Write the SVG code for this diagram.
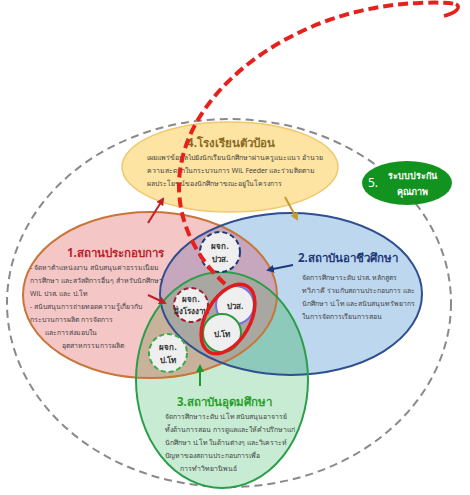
<svg xmlns="http://www.w3.org/2000/svg" width="470" height="495" viewBox="0 0 470 495">
<style>
text{font-family:"Noto Sans","DejaVu Sans",sans-serif}
.title{font-size:11.5px;font-weight:bold}
.body{font-size:6.9px;fill:#444}
.ct{font-size:8px;font-weight:bold;fill:#333;text-anchor:middle}
.arr{stroke-width:2;fill:none}
</style>
<defs>
<ellipse id="eR" cx="150" cy="295" rx="127" ry="83"/>
<ellipse id="eB" cx="291" cy="294" rx="131" ry="81"/>
<ellipse id="eG" cx="222" cy="380" rx="86" ry="108"/>
<clipPath id="cR"><use href="#eR"/></clipPath>
<clipPath id="cB"><use href="#eB"/></clipPath>
<marker id="mRed" markerWidth="8" markerHeight="8" refX="6" refY="4" orient="auto" markerUnits="userSpaceOnUse"><path d="M0,0 L8,4 L0,8 Z" fill="#c0202a"/></marker>
<marker id="mGold" markerWidth="8" markerHeight="8" refX="6" refY="4" orient="auto" markerUnits="userSpaceOnUse"><path d="M0,0 L8,4 L0,8 Z" fill="#c49a2c"/></marker>
<marker id="mNavy" markerWidth="8" markerHeight="8" refX="6" refY="4" orient="auto" markerUnits="userSpaceOnUse"><path d="M0,0 L8,4 L0,8 Z" fill="#1f3a7a"/></marker>
<marker id="mGreen" markerWidth="8" markerHeight="8" refX="6" refY="4" orient="auto" markerUnits="userSpaceOnUse"><path d="M0,0 L8,4 L0,8 Z" fill="#1f9a2a"/></marker>
</defs>
<rect width="470" height="495" fill="#ffffff"/>
<g id="outer">
<ellipse cx="229" cy="303" rx="222" ry="184" fill="none" stroke="#8a8a8a" stroke-width="2" stroke-dasharray="8 5"/>
</g>
<g id="regions">
<use href="#eR" fill="#f5c6c6"/>
<use href="#eB" fill="#bdd7ee"/>
<use href="#eG" fill="#c7ecd3"/>
<g clip-path="url(#cR)"><use href="#eB" fill="#c7a7bd"/></g>
<g clip-path="url(#cR)"><use href="#eG" fill="#c9b29c"/></g>
<g clip-path="url(#cB)"><use href="#eG" fill="#8dcabb"/></g>
<g clip-path="url(#cR)"><g clip-path="url(#cB)"><use href="#eG" fill="#a9a7a1"/></g></g>
<use href="#eR" fill="none" stroke="#c8763a" stroke-width="2"/>
<use href="#eB" fill="none" stroke="#2f4f8f" stroke-width="2"/>
<use href="#eG" fill="none" stroke="#2a9e48" stroke-width="2"/>
</g>
<g id="node4">
<ellipse cx="230" cy="167" rx="108" ry="45" fill="#fde4a2" stroke="#efc86e" stroke-width="1.5"/>
<text class="title" x="231" y="147" text-anchor="middle" fill="#8a6a28">4.โรงเรียนตัวป้อน</text>
<text class="body" x="147" y="160">เผยแพร่ข้อมูลไปยังนักเรียนนักศึกษาผ่านครูแนะแนว อำนวย</text>
<text class="body" x="147" y="173">ความสะดวกในกระบวนการ WiL Feeder และร่วมติดตาม</text>
<text class="body" x="147" y="186">ผลประโยชน์ของนักศึกษาขณะอยู่ในโครงการ</text>
</g>
<g id="node1">
<text class="title" x="67" y="257" fill="#c0202a">1.สถานประกอบการ</text>
<text class="body" x="30" y="270">- จัดหาตำแหน่งงาน สนับสนุนค่าธรรมเนียม</text>
<text class="body" x="30" y="283">การศึกษา และสวัสดิการอื่นๆ สำหรับนักศึกษา</text>
<text class="body" x="30" y="296">WiL ปวส. และ ป.โท</text>
<text class="body" x="30" y="309">- สนับสนุนการถ่ายทอดความรู้เกี่ยวกับ</text>
<text class="body" x="30" y="322">กระบวนการผลิต การจัดการ</text>
<text class="body" x="45" y="335">และการส่งมอบใน</text>
<text class="body" x="62" y="348">อุตสาหกรรมการผลิต</text>
</g>
<g id="node2">
<text class="title" x="298" y="262" fill="#1f3a7a">2.สถาบันอาชีวศึกษา</text>
<text class="body" x="302" y="280">จัดการศึกษาระดับ ปวส. หลักสูตร</text>
<text class="body" x="302" y="293">ทวิภาคี ร่วมกับสถานประกอบการ และ</text>
<text class="body" x="302" y="306">นักศึกษา ป.โท และสนับสนุนทรัพยากร</text>
<text class="body" x="302" y="319">ในการจัดการเรียนการสอน</text>
</g>
<g id="node3">
<text class="title" x="177" y="406" fill="#2aa02a">3.สถาบันอุดมศึกษา</text>
<text class="body" x="165" y="419">จัดการศึกษาระดับ ป.โท สนับสนุนอาจารย์</text>
<text class="body" x="165" y="432">ทั้งด้านการสอน การดูแลและให้คำปรึกษาแก่</text>
<text class="body" x="165" y="445">นักศึกษา ป.โท ในด้านต่างๆ และวิเคราะห์</text>
<text class="body" x="165" y="458">ปัญหาของสถานประกอบการเพื่อ</text>
<text class="body" x="180" y="471">การทำวิทยานิพนธ์</text>
</g>
<g id="node5">
<ellipse cx="407" cy="183" rx="45" ry="22" fill="#12921f"/>
<text x="368" y="187" font-size="12" fill="#fff">5.</text>
<text x="412" y="179" font-size="9" font-weight="bold" fill="#fff" text-anchor="middle">ระบบประกัน</text>
<text x="412" y="195" font-size="9" font-weight="bold" fill="#fff" text-anchor="middle">คุณภาพ</text>
</g>
<g id="mgr-pvs">
<circle cx="220" cy="252" r="20" fill="#efefef" stroke="#1f3a7a" stroke-width="2" stroke-dasharray="5 3"/>
<text class="ct" x="220" y="249">ผจก.</text>
<text class="ct" x="220" y="262">ปวส.</text>
</g>
<g id="mgr-factory">
<circle cx="191" cy="305" r="17" fill="#efefef" stroke="#a02030" stroke-width="2" stroke-dasharray="5 3"/>
<text class="ct" x="191" y="302" font-size="7.5">ผจก.</text>
<text class="ct" x="191" y="314" font-size="7.5">ฝั่งโรงงาน</text>
</g>
<g id="mgr-msc">
<circle cx="168" cy="353" r="19" fill="#efefef" stroke="#3aaa4a" stroke-width="2" stroke-dasharray="5 3"/>
<text class="ct" x="168" y="350">ผจก.</text>
<text class="ct" x="168" y="363">ป.โท</text>
</g>
<g id="pvs">
<circle cx="235" cy="305" r="19" fill="#efefef" stroke="#7a72e6" stroke-width="2"/>
<text class="ct" x="235" y="309">ปวส.</text>
</g>
<g id="msc">
<circle cx="222" cy="333" r="19" fill="#efefef" stroke="#2a9a3a" stroke-width="2"/>
<text class="ct" x="222" y="337" font-size="9">ป.โท</text>
</g>
<g id="students">
<ellipse cx="228" cy="319" rx="22" ry="38" transform="rotate(30 228 319)" fill="none" stroke="#e21b1b" stroke-width="3.5"/>
</g>
<g id="connectors">
<path d="M 225 284 C 182 245, 163 185, 195 125 C 230 60, 320 6, 420 3 C 440 2, 455 3, 458 5" fill="none" stroke="#e8201c" stroke-width="4" stroke-dasharray="10 5"/>
<path d="M 456 4 C 462 8, 455 13, 444 16" fill="none" stroke="#e8201c" stroke-width="3.5"/>
<line class="arr" x1="148" y1="223" x2="163" y2="199" stroke="#c0202a" marker-end="url(#mRed)"/>
<line class="arr" x1="285" y1="197" x2="297" y2="219" stroke="#c49a2c" marker-end="url(#mGold)"/>
<line class="arr" x1="293" y1="265" x2="268" y2="270" stroke="#1f3a7a" marker-end="url(#mNavy)"/>
<line class="arr" x1="148" y1="295" x2="165" y2="303" stroke="#c0202a" marker-end="url(#mRed)"/>
<line class="arr" x1="200" y1="386" x2="200" y2="366" stroke="#1f9a2a" marker-end="url(#mGreen)"/>
</g>
</svg>
